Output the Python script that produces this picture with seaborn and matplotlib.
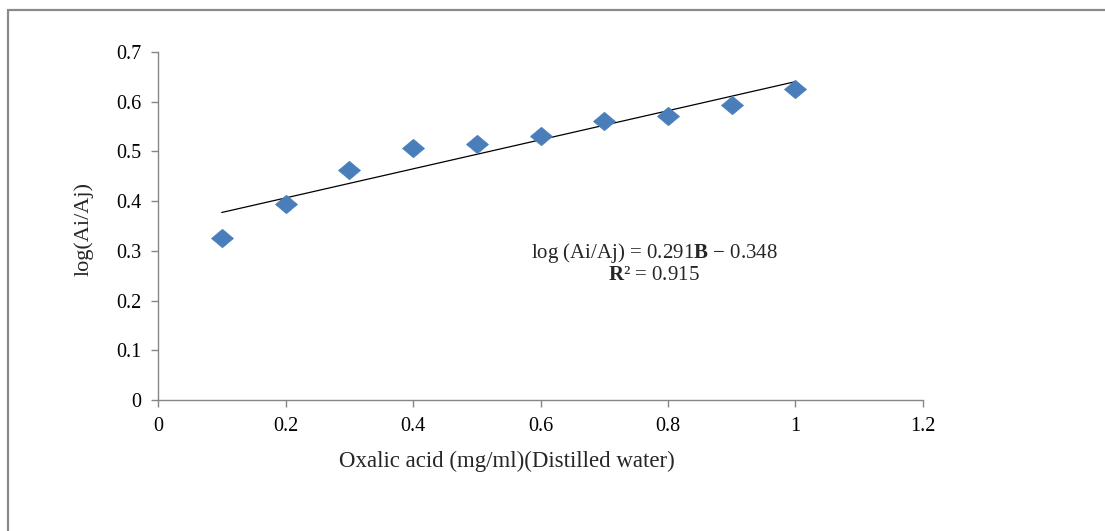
import numpy as np
import pandas as pd
import matplotlib
matplotlib.use("Agg")
import matplotlib.pyplot as plt
import seaborn as sns
from matplotlib.patches import Rectangle
from matplotlib.path import Path

# Oxalic acid concentration (mg/ml) and measured log(Ai/Aj)
concentration = [0.1, 0.2, 0.3, 0.4, 0.5, 0.6, 0.7, 0.8, 0.9, 1.0]
log_ratio = [0.325, 0.395, 0.463, 0.507, 0.514, 0.531, 0.561, 0.572, 0.594, 0.626]
x_ticks = [0, 0.2, 0.4, 0.6, 0.8, 1, 1.2]
x_tick_labels = ["0", "0.2", "0.4", "0.6", "0.8", "1", "1.2"]
y_ticks = [0, 0.1, 0.2, 0.3, 0.4, 0.5, 0.6, 0.7]
y_tick_labels = ["0", "0.1", "0.2", "0.3", "0.4", "0.5", "0.6", "0.7"]
equation_text = "log (Ai/Aj) = 0.291$\\mathbf{B}$ \u2212 0.348\n$\\mathbf{R}$\u00b2 = 0.915"

df = pd.DataFrame({"conc": concentration, "ratio": log_ratio})

sns.set_theme(style="white")
plt.rcParams["font.family"] = ["Liberation Serif", "DejaVu Serif"]
plt.rcParams["mathtext.fontset"] = "custom"
plt.rcParams["mathtext.rm"] = "Liberation Serif"
plt.rcParams["mathtext.bf"] = "Liberation Serif:bold"

W, H = 1105, 531
fig = plt.figure(figsize=(W / 100, H / 100), dpi=100)
fig.patch.set_facecolor("white")

# outer frame of the chart area
fig.patches.append(Rectangle((8 / W, -0.1), 1.2, 1 - 10 / H + 0.1,
                             transform=fig.transFigure, fill=False,
                             edgecolor="#8a8a8a", linewidth=1.6))

ax = fig.add_axes([158 / W, 1 - 400 / H, (923 - 158) / W, (400 - 52) / H])

# slightly flattened diamond marker
diamond = Path([(0, 0.42), (0.5, 0), (0, -0.42), (-0.5, 0), (0, 0.42)],
               [Path.MOVETO, Path.LINETO, Path.LINETO, Path.LINETO, Path.CLOSEPOLY])

# least-squares trend line over the data range
sns.regplot(data=df, x="conc", y="ratio", ax=ax, scatter=False, ci=None,
            truncate=True, line_kws={"color": "black", "linewidth": 0.9})
sns.scatterplot(data=df, x="conc", y="ratio", ax=ax, marker=diamond, s=250,
                color="#4a7ebb", edgecolor="#4a7ebb", linewidth=0.5, zorder=3)

ax.set_xlim(0, 1.2)
ax.set_ylim(0, 0.7)
ax.set_xticks(x_ticks)
ax.set_xticklabels(x_tick_labels)
ax.set_yticks(y_ticks)
ax.set_yticklabels(y_tick_labels)
ax.set_xlabel("")
ax.set_ylabel("")

for side in ("top", "right"):
    ax.spines[side].set_visible(False)
for side in ("left", "bottom"):
    ax.spines[side].set_color("#868686")
    ax.spines[side].set_linewidth(1.0)

ax.tick_params(axis="both", which="major", direction="out", length=5,
               width=1.0, color="#868686", labelsize=14.5, labelcolor="black",
               left=True, bottom=True, pad=7)
ax.grid(False)

fig.text(84 / W, 1 - 229 / H, "log(Ai/Aj)", rotation=90, ha="center",
         va="center", fontsize=16)
fig.text(507 / W, 1 - 461 / H, "Oxalic acid (mg/ml)(Distilled water)",
         ha="center", va="center", fontsize=16.5)
ax.text(0.778, 0.275, equation_text, ha="center", va="center",
        fontsize=15, linespacing=1.05, transform=ax.transData)

fig.savefig("out.png", dpi=100, facecolor="white")
